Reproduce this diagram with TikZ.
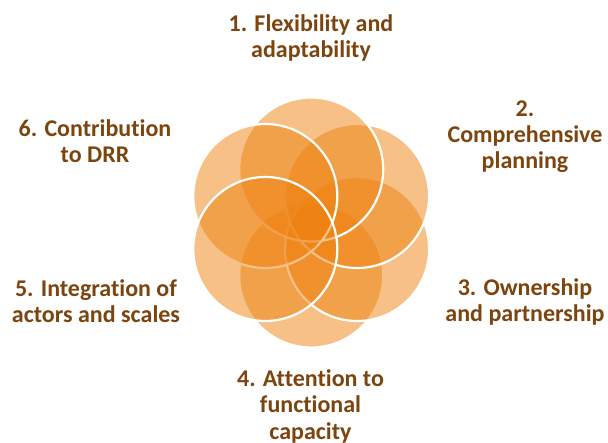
\documentclass[tikz,border=0pt]{standalone}
\usepackage{fontspec}
\setmainfont[Ligatures=NoCommon]{Carlito}
\definecolor{petalorange}{RGB}{238,130,16}
\definecolor{labelbrown}{RGB}{124,68,14}
\begin{document}
\begin{tikzpicture}[x=1pt,y=-1pt,
  petal/.style={fill=petalorange, fill opacity=0.5, draw=white, line width=2.2pt},
  labeltxt/.style={text=labelbrown, font=\bfseries\fontsize{24}{26}\selectfont,
    align=center, anchor=base, inner sep=0pt}]
\useasboundingbox (0,0) rectangle (608,443);
\coordinate (hub) at (311.2,222.5);
% six overlapping petals, drawn clockwise from the top
\foreach \a in {90,30,-30,-90,-150,150}
  \path[petal] (hub) ++(\a:53) circle[radius=72];
% labels (anchored at the baseline of their last line)
\node[labeltxt] (l1) at (311,58) {1. Flexibility and\\adaptability};
\node[labeltxt] (l2) at (525,169) {2.\\Comprehensive\\planning};
\node[labeltxt] (l3) at (525,322) {3. Ownership\\and partnership};
\node[labeltxt] (l4) at (310.5,439) {4. Attention to\\functional\\capacity};
\node[labeltxt] (l5) at (96,323) {5. Integration of\\actors and scales};
\node[labeltxt] (l6) at (95,163) {6. Contribution\\to DRR};
\end{tikzpicture}
\end{document}
